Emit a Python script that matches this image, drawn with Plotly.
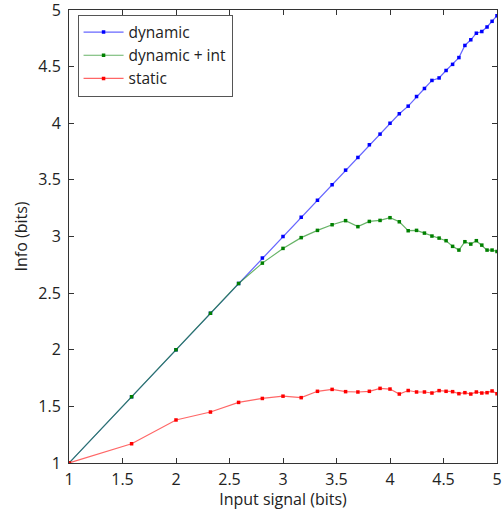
import plotly.graph_objects as go

# Input signal (bits)
x_bits = [1.0, 1.585, 2.0, 2.322, 2.585, 2.807, 3.0, 3.17, 3.322, 3.459, 3.585,
          3.70, 3.807, 3.907, 4.0, 4.087, 4.17, 4.248, 4.322, 4.392, 4.459,
          4.524, 4.585, 4.644, 4.70, 4.755, 4.807, 4.858, 4.907, 4.954, 5.0]

dynamic = [1.0, 1.585, 2.0, 2.322, 2.585, 2.81, 3.0, 3.17, 3.32, 3.457, 3.586,
           3.698, 3.81, 3.904, 4.0, 4.084, 4.151, 4.236, 4.307, 4.378, 4.40,
           4.466, 4.52, 4.58, 4.687, 4.737, 4.795, 4.81, 4.85, 4.90, 4.95]

dynamic_int = [1.0, 1.585, 2.0, 2.322, 2.585, 2.765, 2.895, 2.99, 3.054, 3.104, 3.14,
               3.087, 3.133, 3.142, 3.166, 3.13, 3.051, 3.054, 3.03, 3.004, 2.986,
               2.963, 2.913, 2.88, 2.954, 2.933, 2.963, 2.924, 2.88, 2.88, 2.868]

static = [1.0, 1.17, 1.38, 1.45, 1.535, 1.57, 1.59, 1.577, 1.633, 1.65, 1.63,
          1.627, 1.633, 1.659, 1.653, 1.609, 1.64, 1.627, 1.627, 1.618, 1.639,
          1.633, 1.63, 1.612, 1.621, 1.609, 1.627, 1.618, 1.621, 1.636, 1.612]

series = [
    ("dynamic", dynamic, "rgba(0,0,255,0.6)", "rgb(0,0,255)"),
    ("dynamic + int", dynamic_int, "rgba(0,128,0,0.6)", "rgb(0,128,0)"),
    ("static", static, "rgba(255,0,0,0.6)", "rgb(255,0,0)"),
]

x_ticks = [1, 1.5, 2, 2.5, 3, 3.5, 4, 4.5, 5]
y_ticks = [1, 1.5, 2, 2.5, 3, 3.5, 4, 4.5, 5]

fig = go.Figure()
for name, ys, lc, mc in series:
    fig.add_trace(go.Scatter(
        x=x_bits, y=ys, name=name, mode="lines+markers",
        line=dict(color=lc, width=1.2),
        marker=dict(color=mc, size=3.5, symbol="square"),
    ))

font_family = "Open Sans, Lato, sans-serif"
axis_common = dict(
    showline=True, linecolor="#333333", linewidth=1, mirror="ticks",
    ticks="inside", ticklen=5, tickcolor="#333333",
    showgrid=False, zeroline=False, ticklabeloverflow="allow",
    tickfont=dict(family=font_family, size=16, color="#222222"),
)

fig.update_layout(
    width=502, height=510,
    margin=dict(l=69, r=5, t=10, b=47),
    paper_bgcolor="white", plot_bgcolor="white",
    font=dict(family=font_family, size=16, color="#222222"),
    xaxis=dict(range=[1, 5], tickvals=x_ticks,
               ticktext=[f"{v:g}" for v in x_ticks],
               title=dict(text="Input signal (bits)", standoff=0,
                          font=dict(size=16)),
               automargin="height",
               ticklabelstandoff=2, **axis_common),
    yaxis=dict(range=[1, 5], tickvals=y_ticks,
               ticktext=[f"{v:g}" for v in y_ticks],
               title=dict(text="Info (bits)", standoff=6,
                          font=dict(size=16)),
               automargin="width",
               ticklabelstandoff=4, **axis_common),
    legend=dict(x=0.02, y=0.99, xanchor="left", yanchor="top",
                bgcolor="white", bordercolor="#555555", borderwidth=1,
                font=dict(family=font_family, size=15.5, color="#222222"),
                tracegroupgap=0, itemwidth=40),
    showlegend=True,
)

fig.write_html("out.html")
